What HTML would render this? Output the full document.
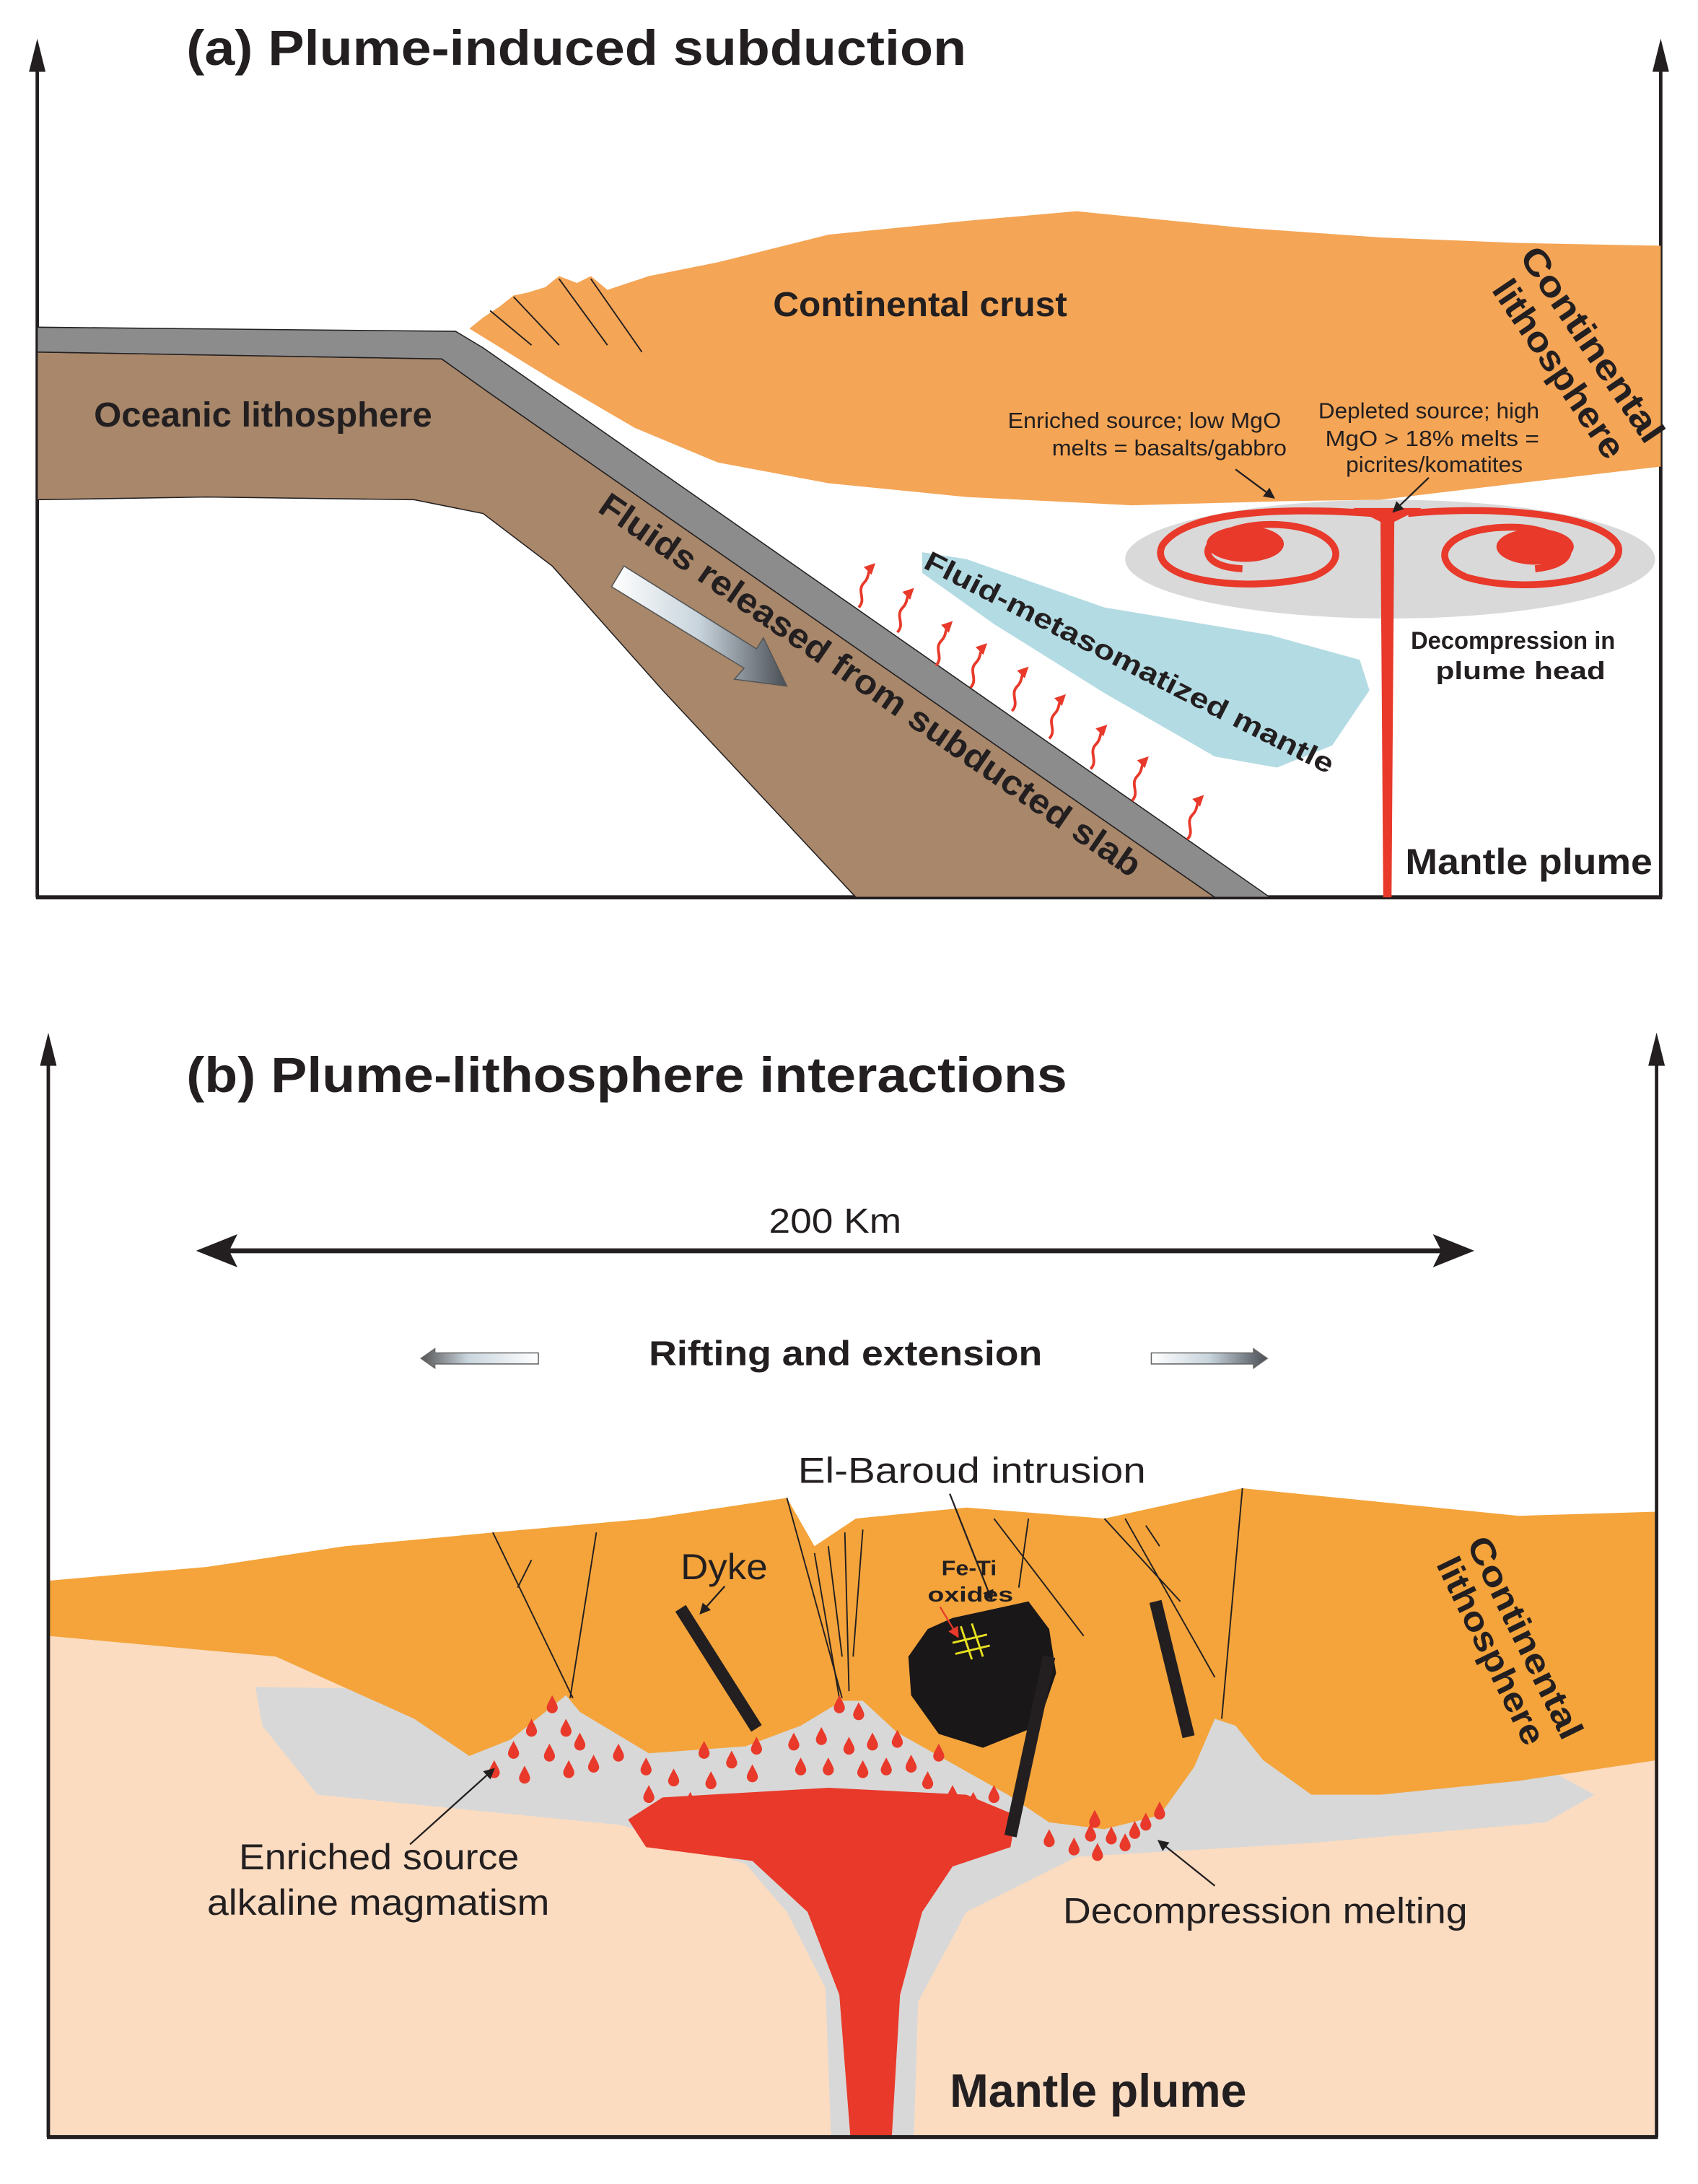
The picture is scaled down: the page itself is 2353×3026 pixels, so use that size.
<!DOCTYPE html>
<html><head><meta charset="utf-8"><style>
html,body{margin:0;padding:0;background:#fff}
svg{display:block}
text{font-family:"Liberation Sans",Arial,sans-serif;fill:#231f20}
.b{font-weight:bold}
</style></head><body>
<svg width="2353" height="3026" viewBox="0 0 1230 1582" preserveAspectRatio="none" xmlns="http://www.w3.org/2000/svg">
<defs>
<marker id="ah" markerWidth="8" markerHeight="8" refX="6" refY="4" orient="auto" markerUnits="userSpaceOnUse"><path d="M0,0 L8,4 L0,8 Z" fill="#231f20"/></marker>
<marker id="ahr" markerWidth="8" markerHeight="8" refX="5" refY="4" orient="auto" markerUnits="userSpaceOnUse"><path d="M0,0 L8,4 L0,8 Z" fill="#e8392a"/></marker>
<linearGradient id="ga" x1="0" y1="0" x2="1" y2="0"><stop offset="0" stop-color="#fff"/><stop offset="0.5" stop-color="#c8d4dc"/><stop offset="1" stop-color="#4a4e55"/></linearGradient>
<linearGradient id="gl" x1="1" y1="0" x2="0" y2="0"><stop offset="0" stop-color="#fff"/><stop offset="0.6" stop-color="#cad6de"/><stop offset="1" stop-color="#555"/></linearGradient>
<path id="drop" d="M0,-7 C2,-3 4,0 4,2 A4,4 0 0 1 -4,2 C-4,0 -2,-3 0,-7Z" fill="#e8392a"/>
</defs>

<line x1="27" y1="650" x2="27" y2="40" stroke="#231f20" stroke-width="2.5"/>
<path d="M27,28 L21,52 L33,52Z" fill="#231f20"/>
<line x1="1203" y1="650" x2="1203" y2="40" stroke="#231f20" stroke-width="2.5"/>
<path d="M1203,28 L1197,52 L1209,52Z" fill="#231f20"/>
<line x1="26" y1="650" x2="1204" y2="650" stroke="#231f20" stroke-width="3"/>
<text x="135" y="47" class="b" font-size="36" textLength="565" lengthAdjust="spacingAndGlyphs">(a) Plume-induced subduction</text>

<path d="M340,238 L350,230 L362,222 L372,214 L382,212 L395,208 L405,200 L418,205 L428,200 L440,210 L470,200 L520,190 L600,170 L700,160 L780,153 L900,165 L1000,172 L1100,176 L1203,178 L1203,338 L1100,350 L1000,362 L930,363 L820,366 L700,360 L600,350 L520,335 L460,310 L400,275 Z" fill="#f4a556"/>
<path d="M355,225 L385,250 M372,215 L405,250 M405,202 L440,250 M428,202 L465,255" stroke="#231f20" stroke-width="1" fill="none"/>

<path d="M27,362 L150,360 L300,362 L350,372 L400,410 L480,500 L620,650 L880,650 L355,285 L320,260 L27,255 Z" fill="#a8876a" stroke="#231f20" stroke-width="0.8"/>
<path d="M27,237 L330,240 L350,252 L920,650 L880,650 L355,285 L320,260 L27,255 Z" fill="#8c8c8c" stroke="#231f20" stroke-width="0.8"/>

<path d="M668,400 L700,405 L800,440 L920,460 L985,478 L992,500 L965,540 L925,556 L880,548 L800,502 L720,452 L668,415 Z" fill="#b3dbe3"/>

<ellipse cx="1007" cy="405" rx="192" ry="43" fill="#d9d9d9"/>
<g fill="none" stroke="#e8392a" stroke-width="5">
<path d="M995,372 C940,368 860,368 842,395 C830,420 900,430 950,418 C985,405 965,378 915,380 C870,383 860,410 900,412"/>
<path d="M1020,372 C1080,366 1160,372 1172,395 C1180,418 1110,432 1062,418 C1030,404 1050,380 1100,382 C1140,385 1150,408 1112,412"/>
</g>
<ellipse cx="902" cy="394" rx="28" ry="13" fill="#e8392a"/>
<ellipse cx="1112" cy="396" rx="28" ry="13" fill="#e8392a"/>
<path d="M980,368 L1030,368 L1010,378 L1008,650 L1002,650 L1000,378 Z" fill="#e8392a"/>

<polygon points="443,425 452,410 548,470 553,462 570,497 532,492 539,484" fill="url(#ga)" stroke="#555" stroke-width="0.8"/>

<g fill="none" stroke="#e8392a" stroke-width="2" marker-end="url(#ahr)">
<path d="M622,440 c6,-6 -2,-12 4,-18 c4,-4 2,-8 6,-12"/>
<path d="M650,458 c6,-6 -2,-12 4,-18 c4,-4 2,-8 6,-12"/>
<path d="M678,482 c6,-6 -2,-12 4,-18 c4,-4 2,-8 6,-12"/>
<path d="M703,498 c6,-6 -2,-12 4,-18 c4,-4 2,-8 6,-12"/>
<path d="M733,515 c6,-6 -2,-12 4,-18 c4,-4 2,-8 6,-12"/>
<path d="M760,535 c6,-6 -2,-12 4,-18 c4,-4 2,-8 6,-12"/>
<path d="M790,557 c6,-6 -2,-12 4,-18 c4,-4 2,-8 6,-12"/>
<path d="M820,580 c6,-6 -2,-12 4,-18 c4,-4 2,-8 6,-12"/>
<path d="M860,608 c6,-6 -2,-12 4,-18 c4,-4 2,-8 6,-12"/>
</g>

<text x="560" y="229" class="b" font-size="25" textLength="213" lengthAdjust="spacingAndGlyphs">Continental crust</text>
<text x="68" y="309" class="b" font-size="25" textLength="245" lengthAdjust="spacingAndGlyphs">Oceanic lithosphere</text>
<text class="b" font-size="26" transform="translate(1100,186) rotate(56)" textLength="165" lengthAdjust="spacingAndGlyphs">Continental</text>
<text class="b" font-size="26" transform="translate(1080,210) rotate(56)" textLength="150" lengthAdjust="spacingAndGlyphs">lithosphere</text>
<text x="730" y="310" font-size="16" textLength="198" lengthAdjust="spacingAndGlyphs">Enriched source; low MgO</text>
<text x="762" y="330" font-size="16" textLength="170" lengthAdjust="spacingAndGlyphs">melts = basalts/gabbro</text>
<text x="955" y="303" font-size="16" textLength="160" lengthAdjust="spacingAndGlyphs">Depleted source; high</text>
<text x="960" y="323" font-size="16" textLength="155" lengthAdjust="spacingAndGlyphs">MgO &gt; 18% melts =</text>
<text x="975" y="342" font-size="16" textLength="128" lengthAdjust="spacingAndGlyphs">picrites/komatites</text>
<line x1="895" y1="340" x2="922" y2="360" stroke="#231f20" stroke-width="1.2" marker-end="url(#ah)"/>
<line x1="1035" y1="346" x2="1010" y2="370" stroke="#231f20" stroke-width="1.2" marker-end="url(#ah)"/>
<text x="1022" y="470" class="b" font-size="18" textLength="148" lengthAdjust="spacingAndGlyphs">Decompression in</text>
<text x="1040" y="492" class="b" font-size="18" textLength="123" lengthAdjust="spacingAndGlyphs">plume head</text>
<text x="1018" y="633" class="b" font-size="26" textLength="179" lengthAdjust="spacingAndGlyphs">Mantle plume</text>
<text class="b" font-size="25" transform="translate(432,370) rotate(34.5)" textLength="470" lengthAdjust="spacingAndGlyphs">Fluids released from subducted slab</text>
<text class="b" font-size="20" transform="translate(668,411) rotate(27)" textLength="330" lengthAdjust="spacingAndGlyphs">Fluid-metasomatized mantle</text>

<rect x="35" y="1180" width="1165" height="368" fill="#fbdcc1"/>
<path d="M185,1222 L400,1225 L600,1225 L880,1240 L1100,1270 L1155,1300 L1120,1320 L950,1335 L780,1345 L700,1385 L665,1450 L662,1548 L602,1548 L598,1440 L570,1385 L540,1350 L450,1322 L230,1300 L190,1250 Z" fill="#d8d8d8"/>
<path d="M455,1318 L480,1302 L600,1295 L700,1300 L736,1315 L732,1338 L690,1352 L668,1385 L652,1445 L646,1548 L616,1548 L608,1445 L585,1385 L545,1348 L468,1338 Z" fill="#e8392a"/>
<path d="M35,1145 L150,1135 L250,1120 L358,1110 L470,1100 L570,1085 L590,1120 L620,1100 L700,1092 L800,1100 L900,1078 L1000,1088 L1100,1098 L1200,1095 L1200,1275 L1100,1290 L1000,1300 L950,1300 L915,1275 L895,1250 L880,1245 L865,1280 L840,1315 L800,1325 L760,1320 L730,1300 L650,1255 L625,1232 L610,1232 L580,1250 L540,1265 L470,1270 L420,1240 L410,1228 L395,1240 L370,1260 L340,1272 L300,1245 L200,1200 L35,1185 Z" fill="#f4a43b"/>
<g stroke="#231f20" stroke-width="1" fill="none">
<path d="M357,1110 L415,1230 M375,1150 L385,1130 M432,1110 L413,1230"/>
<path d="M570,1085 L610,1230 M590,1125 L608,1230 M600,1120 L610,1200 M612,1110 L615,1225 M625,1108 L618,1200"/>
<path d="M720,1100 L785,1185 M745,1100 L738,1150 M800,1100 L855,1160 M815,1100 L880,1215 M830,1105 L840,1120"/>
<path d="M900,1078 L885,1245"/>
</g>
<path d="M690,1172 L745,1160 L760,1180 L765,1212 L752,1250 L712,1266 L680,1256 L660,1228 L658,1200 L672,1180 Z" fill="#1a1718"/>
<path d="M696,1178 L704,1202 M704,1176 L712,1200 M690,1190 L715,1184 M692,1198 L717,1192" stroke="#e8e020" stroke-width="1.5"/>
<line x1="493" y1="1165" x2="548" y2="1252" stroke="#231f20" stroke-width="9"/>
<line x1="760" y1="1200" x2="732" y2="1330" stroke="#231f20" stroke-width="9"/>
<line x1="837" y1="1160" x2="861" y2="1258" stroke="#231f20" stroke-width="9"/>
<g>
<use href="#drop" x="400" y="1235"/><use href="#drop" x="385" y="1252"/><use href="#drop" x="410" y="1252"/><use href="#drop" x="372" y="1268"/><use href="#drop" x="398" y="1270"/><use href="#drop" x="420" y="1262"/><use href="#drop" x="358" y="1282"/><use href="#drop" x="412" y="1282"/><use href="#drop" x="380" y="1286"/><use href="#drop" x="430" y="1278"/><use href="#drop" x="448" y="1270"/>
<use href="#drop" x="468" y="1280"/><use href="#drop" x="488" y="1288"/><use href="#drop" x="470" y="1300"/><use href="#drop" x="510" y="1268"/><use href="#drop" x="530" y="1275"/><use href="#drop" x="515" y="1290"/><use href="#drop" x="548" y="1265"/><use href="#drop" x="545" y="1285"/><use href="#drop" x="500" y="1305"/>
<use href="#drop" x="575" y="1262"/><use href="#drop" x="595" y="1258"/><use href="#drop" x="608" y="1235"/><use href="#drop" x="622" y="1240"/><use href="#drop" x="580" y="1280"/><use href="#drop" x="600" y="1280"/><use href="#drop" x="615" y="1265"/><use href="#drop" x="632" y="1262"/><use href="#drop" x="625" y="1282"/><use href="#drop" x="642" y="1280"/><use href="#drop" x="650" y="1260"/><use href="#drop" x="660" y="1278"/><use href="#drop" x="672" y="1290"/><use href="#drop" x="690" y="1300"/><use href="#drop" x="705" y="1305"/><use href="#drop" x="720" y="1300"/><use href="#drop" x="680" y="1270"/>
<use href="#drop" x="760" y="1332"/><use href="#drop" x="778" y="1338"/><use href="#drop" x="790" y="1328"/><use href="#drop" x="795" y="1342"/><use href="#drop" x="805" y="1330"/><use href="#drop" x="815" y="1335"/><use href="#drop" x="822" y="1326"/><use href="#drop" x="830" y="1320"/><use href="#drop" x="840" y="1312"/><use href="#drop" x="793" y="1318"/>
</g>
<line x1="35" y1="1548" x2="35" y2="760" stroke="#231f20" stroke-width="2.5"/>
<path d="M35,748 L29,772 L41,772Z" fill="#231f20"/>
<line x1="1200" y1="1548" x2="1200" y2="760" stroke="#231f20" stroke-width="2.5"/>
<path d="M1200,748 L1194,772 L1206,772Z" fill="#231f20"/>
<line x1="34" y1="1548" x2="1201" y2="1548" stroke="#231f20" stroke-width="3"/>
<text x="135" y="791" class="b" font-size="36" textLength="638" lengthAdjust="spacingAndGlyphs">(b) Plume-lithosphere interactions</text>
<line x1="160" y1="906" x2="1050" y2="906" stroke="#231f20" stroke-width="3.5"/>
<path d="M142,906 L172,894 L166,906 L172,918Z M1068,906 L1038,894 L1044,906 L1038,918Z" fill="#231f20"/>
<text x="557" y="893" font-size="25" textLength="96" lengthAdjust="spacingAndGlyphs">200 Km</text>
<text x="470" y="989" class="b" font-size="25" textLength="285" lengthAdjust="spacingAndGlyphs">Rifting and extension</text>
<polygon points="305,984 315,977 315,980 390,980 390,988 315,988 315,991" fill="url(#gl)" stroke="#666" stroke-width="0.8"/>
<polygon points="918,984 908,977 908,980 834,980 834,988 908,988 908,991" fill="url(#ga)" stroke="#666" stroke-width="0.8"/>
<text x="578" y="1074" font-size="26" textLength="252" lengthAdjust="spacingAndGlyphs">El-Baroud intrusion</text>
<line x1="688" y1="1082" x2="718" y2="1158" stroke="#231f20" stroke-width="1.2" marker-end="url(#ah)"/>
<text x="493" y="1144" font-size="26" textLength="63" lengthAdjust="spacingAndGlyphs">Dyke</text>
<line x1="525" y1="1149" x2="508" y2="1168" stroke="#231f20" stroke-width="1.2" marker-end="url(#ah)"/>
<text x="682" y="1141" class="b" font-size="15" textLength="40" lengthAdjust="spacingAndGlyphs">Fe-Ti</text>
<text x="672" y="1160" class="b" font-size="15" textLength="62" lengthAdjust="spacingAndGlyphs">oxides</text>
<line x1="681" y1="1164" x2="693" y2="1184" stroke="#e8392a" stroke-width="1.2" marker-end="url(#ahr)"/>
<text class="b" font-size="25" transform="translate(1062,1118) rotate(64)" textLength="160" lengthAdjust="spacingAndGlyphs">Continental</text>
<text class="b" font-size="25" transform="translate(1040,1133) rotate(64)" textLength="148" lengthAdjust="spacingAndGlyphs">lithosphere</text>
<text x="173" y="1354" font-size="26" textLength="203" lengthAdjust="spacingAndGlyphs">Enriched source</text>
<text x="150" y="1387" font-size="26" textLength="248" lengthAdjust="spacingAndGlyphs">alkaline magmatism</text>
<line x1="297" y1="1336" x2="357" y2="1282" stroke="#231f20" stroke-width="1.2" marker-end="url(#ah)"/>
<text x="770" y="1393" font-size="26" textLength="293" lengthAdjust="spacingAndGlyphs">Decompression melting</text>
<line x1="880" y1="1366" x2="840" y2="1334" stroke="#231f20" stroke-width="1.2" marker-end="url(#ah)"/>
<text x="688" y="1526" class="b" font-size="34" textLength="215" lengthAdjust="spacingAndGlyphs">Mantle plume</text>
</svg>
</body></html>
